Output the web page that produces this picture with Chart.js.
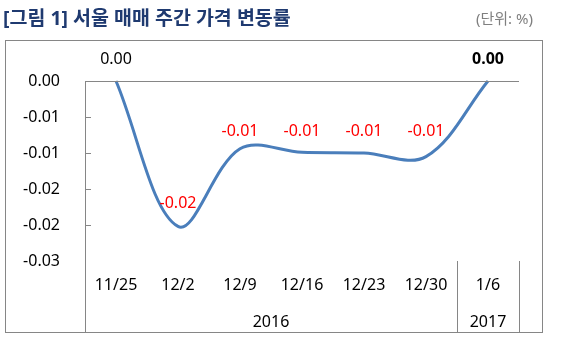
<!DOCTYPE html>
<html>
<head>
<meta charset="utf-8">
<script src="https://cdn.jsdelivr.net/npm/chart.js@4"></script>
<style>
  html, body { margin: 0; padding: 0; background: #fff; }
  .wrap { position: relative; width: 563px; height: 354px; }
</style>
</head>
<body>
<div class="wrap"><canvas id="price-chart"></canvas></div>
<script>
// weekly change, Seoul apartment sale price (%)
const categories = ['11/25', '12/2', '12/9', '12/16', '12/23', '12/30', '1/6'];
const changeRate = [0.00, -0.0202, -0.0094, -0.0099, -0.0100, -0.0105, 0.00];
const valueLabels = ['0.00', '-0.02', '-0.01', '-0.01', '-0.01', '-0.01', '0.00'];
const yTickLabels = ['0.00', '-0.01', '-0.01', '-0.02', '-0.02', '-0.03'];
const yearLabels = ['2016', '2017'];
const yearSpans = [6, 1];

const titleText = '[그림 1] 서울 매매 주간 가격 변동률';
const unitText = '(단위: %)';

const FONT = '"Noto Sans", "Noto Sans CJK KR", sans-serif';
const GRAY = '#868686';

// frame, axis lines, year row, point labels, title
const decorations = {
  id: 'decorations',
  afterDraw(chart) {
    const ctx = chart.ctx;
    const area = chart.chartArea;
    const y = chart.scales.y;
    ctx.save();

    // title + unit
    ctx.textBaseline = 'middle';
    ctx.fillStyle = '#1f3a70';
    ctx.font = 'bold 19.5px ' + FONT;
    ctx.textAlign = 'left';
    ctx.fillText(titleText, 3, 19);
    ctx.fillStyle = '#7f7f7f';
    ctx.font = '15px ' + FONT;
    ctx.textAlign = 'right';
    ctx.fillText(unitText, 533, 20);

    // outer frame
    ctx.strokeStyle = GRAY;
    ctx.lineWidth = 1;
    ctx.strokeRect(5.5, 40.5, 537, 292);

    const bottom = 332;
    ctx.beginPath();
    // category axis sits at 0 (top)
    ctx.moveTo(area.left, Math.round(area.top) + 0.5);
    ctx.lineTo(area.right, Math.round(area.top) + 0.5);
    // value axis, runs down through the label rows
    ctx.moveTo(Math.round(area.left) + 0.5, area.top);
    ctx.lineTo(Math.round(area.left) + 0.5, bottom);
    // inner tick marks
    y.ticks.forEach(function(t, i){
      if (i === 0) return;
      const py = Math.round(y.getPixelForValue(t.value)) + 0.5;
      ctx.moveTo(area.left, py);
      ctx.lineTo(area.left + 6, py);
    });
    // year group dividers
    let idx = 0;
    const step = (area.right - area.left) / categories.length;
    const bounds = [area.left];
    yearSpans.forEach(function(n){
      idx += n;
      bounds.push(area.left + idx * step);
    });
    bounds.slice(1).forEach(function(bx){
      const px = Math.round(bx) + 0.5;
      ctx.moveTo(px, area.bottom);
      ctx.lineTo(px, bottom);
    });
    ctx.stroke();

    // year labels
    ctx.fillStyle = '#000';
    ctx.font = '16px ' + FONT;
    ctx.textAlign = 'center';
    yearLabels.forEach(function(lbl, i){
      ctx.fillText(lbl, (bounds[i] + bounds[i + 1]) / 2, 322);
    });

    // point labels
    const meta = chart.getDatasetMeta(0);
    meta.data.forEach(function(pt, i){
      const last = i === valueLabels.length - 1;
      const plain = i === 0 || last;
      ctx.fillStyle = plain ? '#000' : '#ff0000';
      ctx.font = (last ? 'bold ' : '') + '16px ' + FONT;
      const ly = y.getPixelForValue(Number(valueLabels[i])) - 22;
      ctx.fillText(valueLabels[i], pt.x, ly);
    });
    ctx.restore();
  }
};

new Chart(document.getElementById('price-chart'), {
  type: 'line',
  data: {
    labels: categories,
    datasets: [{
      data: changeRate,
      borderColor: '#4a7ebb',
      borderWidth: 3,
      pointRadius: 0,
      tension: 0.35,
      clip: false,
      fill: false
    }]
  },
  options: {
    responsive: true,
    maintainAspectRatio: false,
    animation: false,
    events: [],
    layout: { padding: { left: 0, right: 44, top: 81, bottom: 0 } },
    plugins: {
      legend: { display: false },
      tooltip: { enabled: false }
    },
    scales: {
      x: {
        offset: true,
        grid: { display: false, drawTicks: false },
        border: { display: false },
        ticks: {
          padding: 15,
          color: '#000',
          font: { family: FONT, size: 16 },
          maxRotation: 0,
          autoSkip: false
        },
        afterFit: function(scale){ scale.height = 93; }
      },
      y: {
        min: -0.025,
        max: 0,
        grid: { display: false, drawTicks: false },
        border: { display: false },
        ticks: {
          stepSize: 0.005,
          padding: 25,
          color: '#000',
          font: { family: FONT, size: 16 },
          callback: function(value, index, ticks){
            // ticks come bottom-up, labels are listed top-down
            return yTickLabels[ticks.length - 1 - index];
          }
        },
        afterFit: function(scale){ scale.width = 85; }
      }
    }
  },
  plugins: [decorations]
});
</script>
</body>
</html>
